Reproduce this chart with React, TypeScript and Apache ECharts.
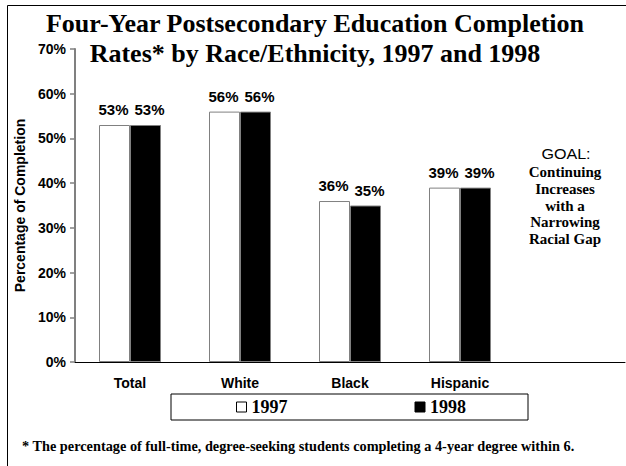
import React, { useEffect, useRef } from "react";
import * as echarts from "echarts";

const categories = ["Total", "White", "Black", "Hispanic", ""];
const rates1997 = [53, 56, 36, 39, null];
const rates1998 = [53, 56, 35, 39, null];
const yTicks = { min: 0, max: 70, interval: 10 };
const goalLines = ["Continuing", "Increases", "with a", "Narrowing", "Racial Gap"];
const footnote =
  "* The percentage of full-time, degree-seeking students completing a 4-year degree within 6.";

const SANS = "'Liberation Sans', Arial, sans-serif";
const SERIF = "'Liberation Serif', 'Times New Roman', serif";

export default function App() {
  const ref = useRef<HTMLDivElement>(null);

  useEffect(() => {
    if (!ref.current) return;
    const chart = echarts.init(ref.current, null, { renderer: "svg" });

    const barLabel = (dx: number) => ({
      show: true,
      position: "top",
      distance: 8,
      offset: [dx, 0],
      formatter: "{c}%",
      color: "#000",
      fontFamily: SANS,
      fontWeight: "bold",
      fontSize: 15,
    });

    const goalGraphics = goalLines.map((t, i) => ({
      type: "text",
      x: 565,
      y: 172 + i * 16.8,
      style: {
        text: t,
        textAlign: "center",
        textVerticalAlign: "middle",
        fill: "#000",
        font: `bold 15px ${SERIF}`,
      },
    }));

    chart.setOption({
      animation: false,
      backgroundColor: "#fff",
      title: {
        text: "Four-Year Postsecondary Education Completion\nRates* by Race/Ethnicity, 1997 and 1998",
        left: 310,
        top: 3,
        textAlign: "center",
        textStyle: {
          fontFamily: SERIF,
          fontWeight: "bold",
          fontSize: 26,
          lineHeight: 30,
          color: "#000",
        },
      },
      legend: {
        left: 171,
        top: 394,
        padding: [4, 62, 4, 65],
        itemGap: 127,
        itemWidth: 10,
        itemHeight: 10,
        borderColor: "#000",
        borderWidth: 1,
        selectedMode: false,
        textStyle: {
          fontFamily: SERIF,
          fontWeight: "bold",
          fontSize: 18,
          color: "#000",
        },
        data: [
          { name: "1997", icon: "rect", itemStyle: { color: "#fff", borderColor: "#000", borderWidth: 1 } },
          { name: "1998", icon: "rect", itemStyle: { color: "#000", borderColor: "#000", borderWidth: 1 } },
        ],
      },
      grid: { left: 75, right: 1, top: 49, bottom: 104 },
      xAxis: {
        type: "category",
        data: categories,
        axisLine: { lineStyle: { color: "#000", width: 1 } },
        axisTick: { length: 5, lineStyle: { color: "#000" } },
        axisLabel: {
          margin: 14,
          color: "#000",
          fontFamily: SANS,
          fontWeight: "bold",
          fontSize: 14,
        },
      },
      yAxis: {
        type: "value",
        min: yTicks.min,
        max: yTicks.max,
        interval: yTicks.interval,
        name: "Percentage of Completion",
        nameLocation: "middle",
        nameGap: 48,
        nameTextStyle: {
          color: "#000",
          fontFamily: SANS,
          fontWeight: "bold",
          fontSize: 14,
        },
        axisLine: { show: true, lineStyle: { color: "#808080", width: 2 } },
        axisTick: { show: true, length: 5, lineStyle: { color: "#808080", width: 1.5 } },
        splitLine: { show: false },
        axisLabel: {
          formatter: "{value}%",
          margin: 9,
          color: "#000",
          fontFamily: SANS,
          fontWeight: "bold",
          fontSize: 14,
        },
      },
      series: [
        {
          name: "1997",
          type: "bar",
          data: rates1997,
          barWidth: 31,
          barGap: "0%",
          itemStyle: { color: "#fff", borderColor: "#808080", borderWidth: 1 },
          label: barLabel(-1),
        },
        {
          name: "1998",
          type: "bar",
          data: rates1998,
          barWidth: 31,
          barGap: "0%",
          itemStyle: { color: "#000", borderColor: "#808080", borderWidth: 1 },
          label: barLabel(4),
        },
      ],
      graphic: [
        {
          type: "line",
          shape: { x1: 7.5, y1: 5.5, x2: 626, y2: 5.5 },
          style: { stroke: "#000", lineWidth: 1 },
        },
        {
          type: "line",
          shape: { x1: 7.5, y1: 5.5, x2: 7.5, y2: 466 },
          style: { stroke: "#000", lineWidth: 1 },
        },
        {
          type: "text",
          x: 566,
          y: 154,
          scaleX: 1.15,
          style: {
            text: "GOAL:",
            textAlign: "center",
            textVerticalAlign: "middle",
            fill: "#000",
            font: `normal 14px ${SANS}`,
          },
        },
        ...goalGraphics,
        {
          type: "text",
          x: 22,
          y: 446,
          style: {
            text: footnote,
            textAlign: "left",
            textVerticalAlign: "middle",
            fill: "#000",
            font: `bold 14.3px ${SERIF}`,
          },
        },
      ],
    });

    return () => chart.dispose();
  }, []);

  return (
    <div
      ref={ref}
      style={{ position: "absolute", left: 0, top: 0, width: 626, height: 466 }}
    />
  );
}
